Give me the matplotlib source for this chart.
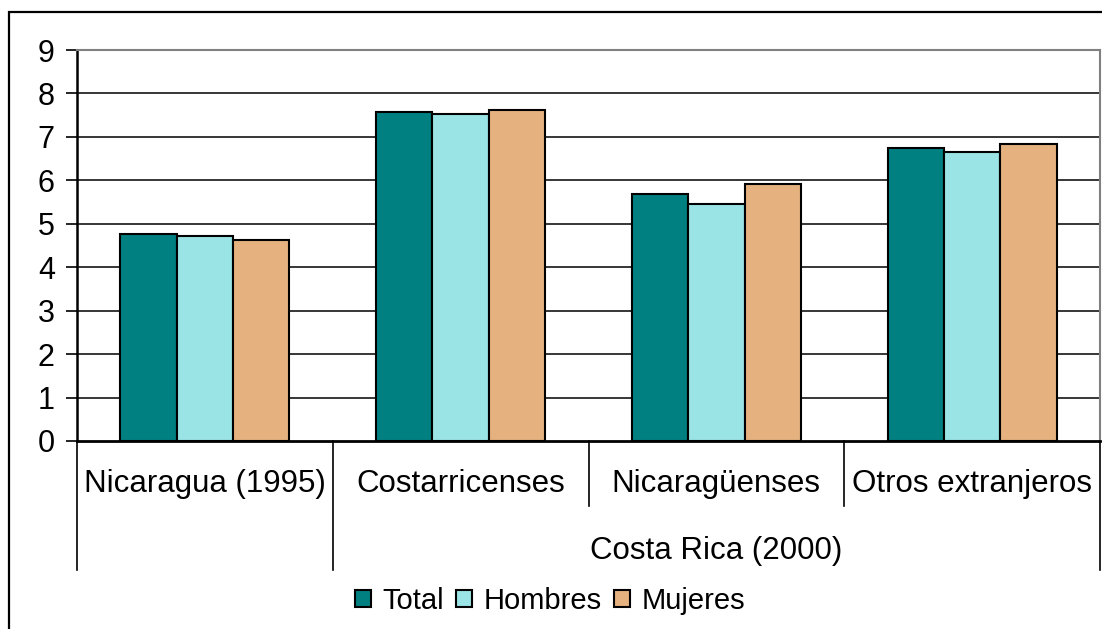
import matplotlib
matplotlib.use("Agg")
import matplotlib.pyplot as plt
import matplotlib.transforms as mtransforms
from matplotlib.patches import Rectangle
import numpy as np

plt.rcParams['font.family'] = ['Liberation Sans', 'DejaVu Sans']

categories = ["Nicaragua (1995)", "Costarricenses", "Nicaragüenses", "Otros extranjeros"]
group_label = "Costa Rica (2000)"
series_names = ["Total", "Hombres", "Mujeres"]
total = [4.76, 7.57, 5.68, 6.74]
hombres = [4.71, 7.53, 5.45, 6.65]
mujeres = [4.62, 7.62, 5.91, 6.83]
yticks = [0, 1, 2, 3, 4, 5, 6, 7, 8, 9]
colors = ["#008080", "#9BE4E6", "#E4B17F"]

W, H = 1102, 629
fig = plt.figure(figsize=(W / 100, H / 100), dpi=100)

# figure border
fig.patches.append(Rectangle((9 / W, -0.01), 1.2, 1 - 12 / H + 0.01, transform=fig.transFigure,
                             fill=False, edgecolor="black", linewidth=1.6, zorder=0))

ax_l, ax_r, ax_t, ax_b = 77, 1100, 50, 441
ax = fig.add_axes([ax_l / W, 1 - ax_b / H, (ax_r - ax_l) / W, (ax_b - ax_t) / H])

x = np.arange(len(categories))
bw = 0.22
for i, (vals, c, name) in enumerate(zip([total, hombres, mujeres], colors, series_names)):
    ax.bar(x + (i - 1) * bw, vals, width=bw, color=c, edgecolor="black", linewidth=1.5,
           label=name, zorder=3)

ax.set_xlim(-0.5, len(categories) - 0.5)
ax.set_ylim(0, 9)
ax.set_yticks(yticks)
ax.set_yticklabels([str(v) for v in yticks], fontsize=22)
ax.tick_params(axis="y", length=8, width=1.2, pad=8, direction="out")
ax.set_xticks([])
for yv in yticks[1:-1]:
    ax.axhline(yv, color="black", linewidth=1.1, zorder=1)

ax.spines["left"].set_linewidth(1.8)
ax.spines["bottom"].set_linewidth(2.0)
ax.spines["top"].set_color("#808080")
ax.spines["right"].set_color("#808080")
ax.spines["top"].set_linewidth(1.5)
ax.spines["right"].set_linewidth(1.5)

trans = mtransforms.blended_transform_factory(ax.transData, ax.transAxes)
axh = ax_b - ax_t
def ay(py):
    return (ax_b - py) / axh

# category separators
bounds = np.arange(len(categories) + 1) - 0.5
for b in bounds:
    if b in (bounds[0], bounds[1], bounds[-1]):
        yend = ay(570)
    else:
        yend = ay(506)
    ax.plot([b, b], [0, yend], color="black", linewidth=1.2, transform=trans, clip_on=False)

for xi, lab in zip(x, categories):
    ax.text(xi, ay(484), lab, transform=trans, ha="center", va="center", fontsize=22.5)

ax.text((bounds[1] + bounds[-1]) / 2, ay(551), group_label, transform=trans,
        ha="center", va="center", fontsize=22.5)

handles, labels = ax.get_legend_handles_labels()
leg = fig.legend(handles, labels, loc="center", bbox_to_anchor=(550 / W, 1 - 601 / H),
                 ncol=3, frameon=False, fontsize=21, handlelength=0.55, handleheight=0.55,
                 handletextpad=0.4, columnspacing=0.4, borderaxespad=0)

fig.savefig("out.png", dpi=100)
